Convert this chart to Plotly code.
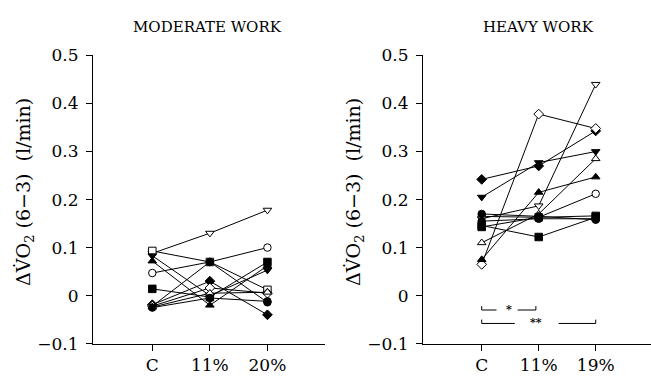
import plotly.graph_objects as go

# ---------------- data ----------------
mod_categories = ["C", "11%", "20%"]
heavy_categories = ["C", "11%", "19%"]
y_tickvals = [-0.1, 0, 0.1, 0.2, 0.3, 0.4, 0.5]
y_ticktext = ["\u22120.1", "0", "0.1", "0.2", "0.3", "0.4", "0.5"]

# moderate work: one entry per subject
mod_symbols = ["triangle-down", "circle", "square", "square", "triangle-down", "triangle-up",
               "circle", "diamond", "diamond", "triangle-up", "circle"]
mod_filled = [False, False, False, True, True, True, True, True, False, False, True]
mod_C = [0.088, 0.047, 0.093, 0.014, 0.083, 0.072, -0.022, -0.019, -0.022, -0.024, -0.025]
mod_11 = [0.130, 0.070, 0.070, -0.003, 0.000, -0.020, 0.070, 0.030, 0.016, 0.005, -0.005]
mod_20 = [0.178, 0.100, 0.012, 0.070, 0.053, 0.062, -0.014, -0.040, 0.005, 0.007, -0.012]

# heavy work: one entry per subject
heavy_symbols = ["diamond", "triangle-down", "diamond", "triangle-down", "triangle-up", "triangle-up",
                 "circle", "circle", "square", "square", "circle"]
heavy_filled = [True, True, False, False, False, True, False, True, True, True, True]
heavy_C = [0.242, 0.205, 0.065, 0.160, 0.110, 0.075, 0.165, 0.170, 0.146, 0.143, 0.155]
heavy_11 = [0.270, 0.277, 0.378, 0.187, 0.170, 0.215, 0.163, 0.165, 0.122, 0.163, 0.160]
heavy_19 = [0.343, 0.300, 0.348, 0.440, 0.285, 0.247, 0.212, 0.158, 0.163, 0.166, 0.160]

# ---------------- figure ----------------
W, H = 651, 383
FONT = "DejaVu Serif"
fig = go.Figure()


def add_panel(cats, cvals, v11, vlast, symbols, filled, xa, ya):
    xs = list(range(len(cats)))
    for i in range(len(symbols)):
        fig.add_trace(go.Scatter(
            x=xs, y=[cvals[i], v11[i], vlast[i]],
            mode="lines+markers",
            line=dict(color="black", width=1),
            marker=dict(symbol=symbols[i], size=7.5,
                        color="black" if filled[i] else "white",
                        line=dict(color="black", width=1)),
            xaxis=xa, yaxis=ya, showlegend=False, hoverinfo="skip"))


add_panel(mod_categories, mod_C, mod_11, mod_20, mod_symbols, mod_filled, "x", "y")
add_panel(heavy_categories, heavy_C, heavy_11, heavy_19, heavy_symbols, heavy_filled, "x2", "y2")

ydom = [1 - 352 / H, 1 - 48 / H]
common_y = dict(range=[-0.1, 0.5], tickvals=y_tickvals, ticktext=y_ticktext,
                showline=True, linecolor="black", linewidth=1, ticks="outside",
                ticklen=6, tickcolor="black", showgrid=False, zeroline=False,
                tickfont=dict(family=FONT, size=17, color="black"), ticklabelstandoff=4,
                domain=ydom)
common_x = dict(showline=True, linecolor="black", linewidth=1, ticks="outside",
                ticklen=6, tickcolor="black", showgrid=False, zeroline=False,
                tickfont=dict(family=FONT, size=17, color="black"), tickvals=[0, 1, 2])

fig.update_layout(
    width=W, height=H, margin=dict(l=0, r=0, t=0, b=0),
    paper_bgcolor="white", plot_bgcolor="white",
    xaxis=dict(common_x, domain=[93 / W, 325 / W], range=[-1.03, 3.0],
               ticktext=mod_categories, anchor="y"),
    yaxis=dict(common_y, anchor="x"),
    xaxis2=dict(common_x, domain=[423 / W, 1.0], range=[-1.03, 2.97],
                ticktext=heavy_categories, anchor="y2"),
    yaxis2=dict(common_y, anchor="x2"),
)

ytitle = "\u0394V\u0307O<sub>2</sub> (6\u22123)  (l/min)"
anns = [
    dict(text="MODERATE WORK", x=207 / W, y=1 - 18 / H),
    dict(text="HEAVY WORK", x=538 / W, y=1 - 18 / H),
]
for a in anns:
    fig.add_annotation(xref="paper", yref="paper", showarrow=False, xanchor="center",
                       yanchor="middle", font=dict(family=FONT, size=15, color="black"), **a)
for xp in (25, 355):
    fig.add_annotation(xref="paper", yref="paper", showarrow=False, text=ytitle,
                       x=xp / W, y=1 - 192 / H, textangle=-90, xanchor="center", yanchor="middle",
                       font=dict(family=FONT, size=19, color="black"))

# significance brackets (heavy work)
seg = dict(type="line", xref="x2", yref="y2", line=dict(color="black", width=1))
brackets = [
    # (x0, x1, y, ytop, side)
    (0.0, 0.26, -0.030, -0.022, "left"),
    (0.63, 0.95, -0.030, -0.022, "right"),
    (0.0, 0.58, -0.058, -0.050, "left"),
    (1.35, 2.0, -0.058, -0.050, "right"),
]
for x0, x1, yy, yt, side in brackets:
    fig.add_shape(x0=x0, x1=x1, y0=yy, y1=yy, **seg)
    xe = x0 if side == "left" else x1
    fig.add_shape(x0=xe, x1=xe, y0=yy, y1=yt, **seg)
fig.add_annotation(xref="x2", yref="y2", x=0.47, y=-0.028, text="<b>*</b>", showarrow=False,
                   font=dict(family=FONT, size=11, color="black"))
fig.add_annotation(xref="x2", yref="y2", x=0.96, y=-0.056, text="<b>**</b>", showarrow=False,
                   font=dict(family=FONT, size=11, color="black"))

fig.write_html("out.html")
